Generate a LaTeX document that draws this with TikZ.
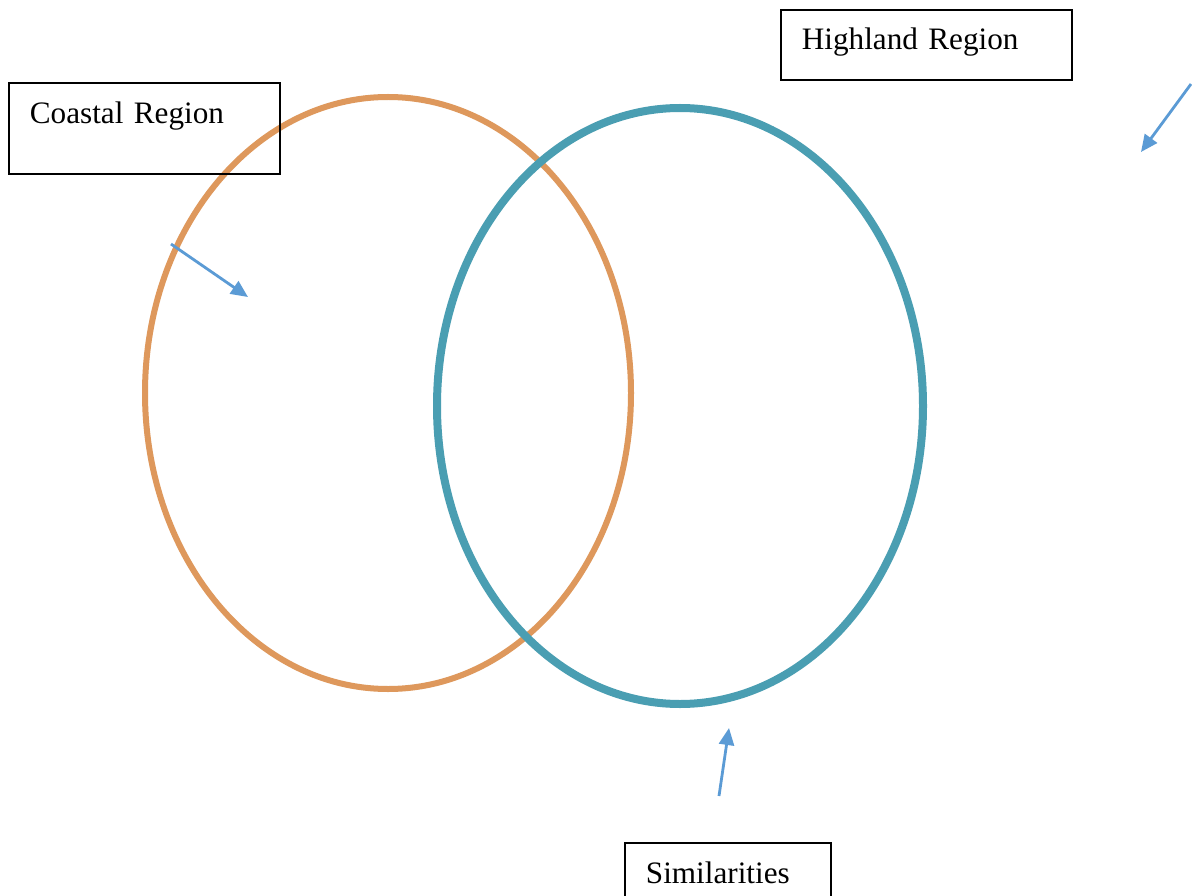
\documentclass[tikz,border=0pt]{standalone}
\usepackage{fontspec}
\setmainfont{Liberation Serif}
\usetikzlibrary{arrows.meta}
\definecolor{orangeC}{RGB}{222,152,92}
\definecolor{tealC}{RGB}{74,158,178}
\definecolor{arrowC}{RGB}{91,155,213}
\tikzset{
  lbl/.style={draw=black, line width=1.8pt, anchor=north west, align=left, inner ysep=0pt, inner xsep=21pt, font=\fontsize{31.2}{38}\selectfont},
  pointer/.style={draw=arrowC, line width=2.8pt, -{Triangle[length=17pt,width=15pt]}},
}
\begin{document}
\begin{tikzpicture}[x=1pt,y=-1pt]
\clip (0,0) rectangle (1192,896);
\useasboundingbox (0,0) rectangle (1192,896);
\fill[white] (0,0) rectangle (1192,896);
\draw[orangeC, line width=6pt] (388,393) ellipse [x radius=243, y radius=296];
\draw[tealC, line width=8pt] (680,406) ellipse [x radius=243, y radius=298];
\node[lbl, minimum width=271pt, text height=41pt, text depth=50pt, text width=229pt] (coastal) at (8,82) {Coastal Region};
\node[lbl, minimum width=291pt, text height=40pt, text depth=30pt, text width=249pt] (highland) at (780,9) {Highland Region};
\node[lbl, minimum width=206pt, text height=41pt, text depth=40pt, text width=164pt] (sim) at (624,842) {Similarities};
\coordinate (a1s) at (171,244);
\coordinate (a1e) at (248,297);
\coordinate (a2s) at (1191,84);
\coordinate (a2e) at (1141,152);
\coordinate (a3s) at (719,796);
\coordinate (a3e) at (729,728);
\draw[pointer] (a1s) -- (a1e);
\draw[pointer] (a2s) -- (a2e);
\draw[pointer] (a3s) -- (a3e);
\end{tikzpicture}
\end{document}
